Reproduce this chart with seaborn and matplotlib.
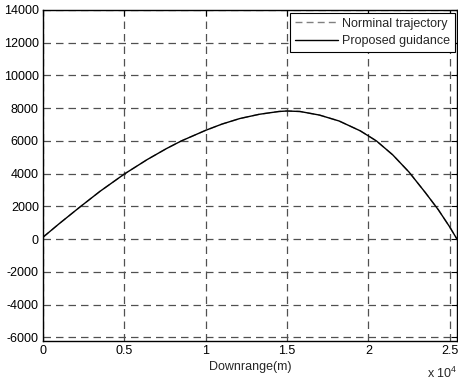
import matplotlib
matplotlib.use("Agg")
import matplotlib.pyplot as plt
import seaborn as sns
import pandas as pd

# ---- data ----
downrange = [0, 1000, 2250, 3500, 5000, 6400, 7600, 8500, 10000, 11000, 12100,
             13300, 14500, 15000, 15800, 17000, 18200, 19500, 20500, 21500,
             22500, 23500, 24300, 25000, 25450]
altitude = [120, 950, 1950, 2920, 3980, 4860, 5540, 6000, 6650, 7030, 7370,
            7630, 7800, 7830, 7800, 7580, 7220, 6620, 6000, 5150, 4100, 2850,
            1800, 750, 0]
series_names = ["Norminal trajectory", "Proposed guidance"]
xtick_values = [0, 5000, 10000, 15000, 20000, 25000]
xtick_labels = ["0", "0.5", "1", "1.5", "2", "2.5"]
ytick_values = [-6000, -4000, -2000, 0, 2000, 4000, 6000, 8000, 10000, 12000, 14000]

sns.set_style("white")
plt.rcParams['font.family'] = ['Liberation Sans', 'DejaVu Sans']
plt.rcParams['mathtext.fontset'] = 'custom'
plt.rcParams['mathtext.rm'] = 'Liberation Sans'
plt.rcParams['mathtext.default'] = 'regular'

df = pd.concat([
    pd.DataFrame({"x": downrange, "y": altitude, "s": series_names[0]}),
    pd.DataFrame({"x": downrange, "y": altitude, "s": series_names[1]}),
])

fig = plt.figure(figsize=(4.58, 3.82), dpi=100)
ax = fig.add_axes([43/458, 1 - 341/382, (457 - 43)/458, (341 - 10)/382])

sns.lineplot(data=df[df.s == series_names[0]], x="x", y="y", ax=ax,
             color="#808080", linestyle=(0, (5, 3)), linewidth=1.0,
             label=series_names[0], sort=False)
sns.lineplot(data=df[df.s == series_names[1]], x="x", y="y", ax=ax,
             color="black", linewidth=1.0, label=series_names[1], sort=False)

ax.set_xlim(0, 25450)
ax.set_ylim(-6220, 14000)
ax.set_xticks(xtick_values)
ax.set_xticklabels(xtick_labels)
ax.set_yticks(ytick_values)
ax.set_yticklabels([str(v) for v in ytick_values])

ax.grid(True, color="#505050", linestyle=(0, (6, 4)), linewidth=0.9)
ax.tick_params(axis="both", direction="in", length=4, width=0.8,
               top=True, right=True, labelsize=9, colors="black", pad=3)
for sp in ax.spines.values():
    sp.set_color("black")
    sp.set_linewidth(1.0)

ax.set_xlabel("Downrange(m)", fontsize=9, labelpad=3)
ax.set_ylabel("")
ax.text(1.0, -0.112, r"x 10$^{4}$", transform=ax.transAxes, ha="right",
        va="baseline", fontsize=9)

leg = ax.legend(loc="upper right", fontsize=9, frameon=True, fancybox=False,
                edgecolor="black", framealpha=1, borderpad=0.4,
                handlelength=3.4, handletextpad=0.3, labelspacing=0.45,
                borderaxespad=0.2)
leg.get_frame().set_linewidth(0.8)

fig.savefig("out.png", dpi=100)
